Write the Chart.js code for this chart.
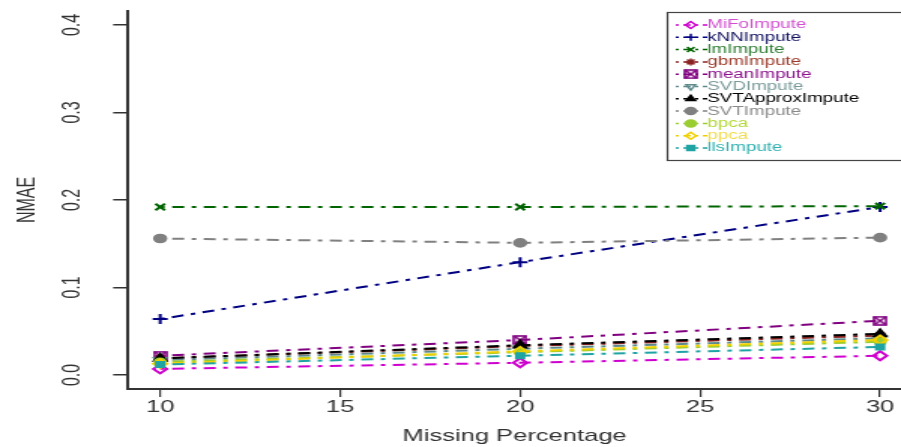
<!DOCTYPE html>
<html><head><meta charset="utf-8">
<script src="https://cdn.jsdelivr.net/npm/chart.js@4.4.0/dist/chart.umd.min.js"></script>
<style>
html,body{margin:0;padding:0;background:#fff;overflow:hidden;width:901px;height:447px;}
#wrap{position:absolute;left:0;top:0;width:600px;height:447px;transform:scaleX(1.501667);transform-origin:0 0;}
canvas{display:block}
</style></head><body>
<div id="wrap"><canvas id="c" width="600" height="447"></canvas></div>
<script>
// ---- data ----
const missingPct = [10, 20, 30];
const xTicks = [10, 15, 20, 25, 30];
const yTicks = [0, 0.1, 0.2, 0.3, 0.4];
const methodNames = ["MiFoImpute","kNNImpute","lmImpute","gbmImpute","meanImpute","SVDImpute","SVTApproxImpute","SVTImpute","bpca","ppca","llsImpute"];
const MiFoImpute      = [0.007, 0.014, 0.022];
const kNNImpute       = [0.064, 0.129, 0.192];
const lmImpute        = [0.192, 0.192, 0.193];
const gbmImpute       = [0.019, 0.033, 0.045];
const meanImpute      = [0.022, 0.040, 0.062];
const SVDImpute       = [0.017, 0.030, 0.042];
const SVTApproxImpute = [0.019, 0.034, 0.047];
const SVTImpute       = [0.156, 0.151, 0.157];
const bpca            = [0.015, 0.026, 0.038];
const ppca            = [0.013, 0.027, 0.040];
const llsImpute       = [0.012, 0.022, 0.032];
const seriesValues = [MiFoImpute,kNNImpute,lmImpute,gbmImpute,meanImpute,SVDImpute,SVTApproxImpute,SVTImpute,bpca,ppca,llsImpute];

// ---- styles ----
function boxX(color){
  const c=document.createElement('canvas'); c.width=10; c.height=10;
  const g=c.getContext('2d'); g.strokeStyle=color; g.lineWidth=1.6;
  g.strokeRect(1,1,8,8); g.beginPath(); g.moveTo(1,1); g.lineTo(9,9); g.moveTo(9,1); g.lineTo(1,9); g.stroke();
  return c;
}
const colors = ['#CD00CD','#000080','#006400','#8B2323','#800080','#5F8A8B','#000000','#808080','#9ACD32','#F0D000','#1FA3A3'];
const textColors = ['#D050D0','#101060','#2E7D32','#9B3A2A','#8B108B','#7A9A9A','#000000','#8A8A8A','#B5D83A','#F2DC50','#30B0B0'];
const styles = [
  {ps:'rectRot', fill:false, r:4.5},
  {ps:'cross', fill:false, r:5},
  {ps:'crossRot', fill:false, r:4.5},
  {ps:'star', fill:false, r:4.5},
  {ps:boxX('#800080'), fill:false, r:4.5},
  {ps:'triangle', fill:false, rot:180, r:4.5},
  {ps:'triangle', fill:true, r:4.5},
  {ps:'circle', fill:true, r:3.8},
  {ps:'circle', fill:true, r:3.5},
  {ps:'rectRot', fill:false, r:4.5},
  {ps:'rect', fill:true, r:3.5}
];

const datasets = methodNames.map((name,i)=>({
  label: name,
  data: missingPct.map((x,j)=>({x:x, y:seriesValues[i][j]})),
  borderColor: colors[i],
  backgroundColor: colors[i],
  pointBackgroundColor: styles[i].fill ? colors[i] : 'rgba(0,0,0,0)',
  pointBorderColor: colors[i],
  pointStyle: styles[i].ps,
  pointRotation: styles[i].rot || 0,
  pointRadius: styles[i].r,
  pointBorderWidth: 2,
  borderWidth: 2,
  borderDash: [3,5,8,5],
  tension: 0,
  fill: false,
  order: methodNames.length - i,
  legendTextColor: textColors[i]
}));

const legendPlugin = {
  id: 'rlegend',
  afterDraw(chart){
    const ctx = chart.ctx;
    const x0 = 444, y0 = 12, w = 180, h = 148;
    ctx.save();
    ctx.fillStyle = '#fff'; ctx.fillRect(x0, y0, w, h);
    ctx.strokeStyle = '#444'; ctx.lineWidth = 1.2; ctx.strokeRect(x0+0.5, y0+0.5, w, h);
    chart.data.datasets.forEach((ds,i)=>{
      const y = 25 + i*12.3;
      ctx.strokeStyle = ds.borderColor; ctx.lineWidth = 1.5; ctx.setLineDash([2,3,5,3]);
      ctx.beginPath(); ctx.moveTo(450, y); ctx.lineTo(471, y); ctx.stroke();
      ctx.setLineDash([]);
      ctx.fillStyle = ds.pointBackgroundColor; ctx.strokeStyle = ds.borderColor; ctx.lineWidth = 1.5;
      if (Chart.helpers && Chart.helpers.drawPoint) {
        Chart.helpers.drawPoint(ctx, {pointStyle: ds.pointStyle, rotation: ds.pointRotation, radius: 3.5, borderWidth: 1.5}, 460, y);
      }
      ctx.fillStyle = ds.legendTextColor;
      ctx.font = '12.5px "Liberation Sans", Arial, sans-serif';
      ctx.textBaseline = 'middle'; ctx.textAlign = 'left';
      ctx.fillText(ds.label, 471, y);
    });
    ctx.restore();
  }
};

function noPad(s){ s.paddingTop = 0; s.paddingBottom = 0; s.paddingLeft = 0; s.paddingRight = 0; }

new Chart(document.getElementById('c'), {
  type: 'line',
  data: { datasets },
  plugins: [legendPlugin],
  options: {
    responsive: false,
    devicePixelRatio: 1,
    animation: false,
    events: [],
    layout: { autoPadding: false, padding: { top: 11, right: 0, left: 0, bottom: 0 } },
    plugins: { legend: { display: false }, tooltip: { enabled: false } },
    scales: {
      x: {
        type: 'linear', min: 9.11, max: 30.58,
        afterBuildTicks: s => { s.ticks = xTicks.map(v=>({value:v})); },
        afterFit: s => { s.height = 58; noPad(s); },
        grid: { display: true, drawOnChartArea: false, drawTicks: true, tickLength: 8, color: '#333', lineWidth: 1.2 },
        border: { display: true, color: '#333', width: 2 },
        ticks: { color: '#333', padding: 0, font: { family: '"Liberation Sans", Arial, sans-serif', size: 17 }, maxRotation: 0, minRotation: 0, callback: v => String(v) },
        title: { display: true, text: 'Missing Percentage', color: '#333', padding: { top: 0, bottom: 0 }, font: { family: '"Liberation Sans", Arial, sans-serif', size: 17 } }
      },
      y: {
        type: 'linear', min: -0.016, max: 0.416,
        afterBuildTicks: s => { s.ticks = yTicks.map(v=>({value:v})); },
        afterFit: s => { s.width = 85.33; noPad(s); },
        grid: { display: true, drawOnChartArea: false, drawTicks: true, tickLength: 10, color: '#333', lineWidth: 1.5 },
        border: { display: true, color: '#333', width: 2 },
        ticks: { color: '#333', padding: 16, crossAlign: 'center', minRotation: 90, maxRotation: 90, font: { family: '"Liberation Sans", Arial, sans-serif', size: 16 }, callback: v => Number(v).toFixed(1) },
        title: { display: true, text: 'NMAE', color: '#333', padding: { top: 9, bottom: 0 }, font: { family: '"Liberation Sans", Arial, sans-serif', size: 16 } }
      }
    }
  }
});
</script>
</body></html>
